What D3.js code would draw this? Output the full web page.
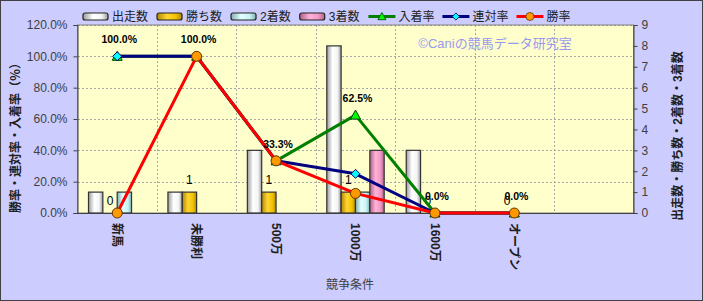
<!DOCTYPE html>
<html>
<head>
<meta charset="utf-8">
<script src="https://cdn.jsdelivr.net/npm/d3@7"></script>
<style>
  body { margin: 0; background: #fff; }
  svg { display: block; font-family: "Liberation Sans", "Noto Sans CJK JP", sans-serif; }
</style>
</head>
<body>
<div id="chart"></div>
<script>
var categories = ['新馬', '未勝利', '500万', '1000万', '1600万', 'オープン', ''];

var starts  = [1, 1, 3, 8, 3, 0, null];
var wins    = [0, 1, 1, 1, 0, 0, null];
var seconds = [1, 0, 0, 1, 0, 0, null];
var thirds  = [0, 0, 0, 3, 0, 0, null];

var placeRate = [100, 100, 33.3, 62.5, 0, 0, null];
var quinRate  = [100, 100, 33.3, 25, 0, 0, null];
var winRate   = [0, 100, 33.3, 12.5, 0, 0, null];

var pctTicks = [0, 20, 40, 60, 80, 100, 120];
var cntTicks = [0, 1, 2, 3, 4, 5, 6, 7, 8, 9];

var barSeries = [
  {name: '出走数', values: starts,  light: '#ffffff', mid: '#f4f4f4', dark: '#9a9a9a'},
  {name: '勝ち数', values: wins,    light: '#ffd633', mid: '#f2c200', dark: '#b08800'},
  {name: '2着数',  values: seconds, light: '#e6ffff', mid: '#c4f4f4', dark: '#80b0b0'},
  {name: '3着数',  values: thirds,  light: '#ffb3d9', mid: '#f098c4', dark: '#b06088'}
];
var lineSeries = [
  {name: '入着率', values: placeRate, color: '#008000', marker: 'triangle', fill: '#00ff00'},
  {name: '連対率', values: quinRate,  color: '#000080', marker: 'diamond',  fill: '#00ffff'},
  {name: '勝率',   values: winRate,   color: '#ff0000', marker: 'circle',   fill: '#ff9900'}
];

var W = 703, H = 301;
var plot = {left: 77.5, right: 633.5, top: 25, bottom: 213};

var svg = d3.select('#chart').append('svg')
            .attr('width', W)
            .attr('height', H);

var defs = svg.append('defs');
barSeries.forEach(function(s, i) {
  var g = defs.append('linearGradient').attr('id', 'grad' + i)
              .attr('x1', '0%').attr('x2', '100%').attr('y1', '0%').attr('y2', '0%');
  g.append('stop').attr('offset', '0%').attr('stop-color', s.dark);
  g.append('stop').attr('offset', '40%').attr('stop-color', s.light);
  g.append('stop').attr('offset', '75%').attr('stop-color', s.mid);
  g.append('stop').attr('offset', '100%').attr('stop-color', s.dark);
});

svg.append('rect')
   .attr('x', 0.5).attr('y', 0.5)
   .attr('width', W - 1).attr('height', H - 1)
   .attr('fill', '#ccccff')
   .attr('stroke', '#404040');

var x = d3.scaleBand().domain(d3.range(categories.length)).range([plot.left, plot.right]);
var xInner = d3.scaleBand().domain(d3.range(barSeries.length)).range([11, 68.4]);
var yPct = d3.scaleLinear().domain([0, 120]).range([plot.bottom, plot.top]);
var yCnt = d3.scaleLinear().domain([0, 9]).range([plot.bottom, plot.top]);

svg.append('rect')
   .attr('x', plot.left).attr('y', plot.top)
   .attr('width', plot.right - plot.left).attr('height', plot.bottom - plot.top)
   .attr('fill', '#ffffcc');

// grid
var grid = svg.append('g').attr('stroke', '#a8a8a8').attr('stroke-dasharray', '2,2').attr('shape-rendering', 'crispEdges');
grid.selectAll('line.h').data(pctTicks.slice(1)).enter().append('line')
    .attr('x1', plot.left).attr('x2', plot.right)
    .attr('y1', function(d) { return Math.round(yPct(d)) + 0.5; })
    .attr('y2', function(d) { return Math.round(yPct(d)) + 0.5; });
grid.selectAll('line.v').data(d3.range(1, categories.length)).enter().append('line')
    .attr('x1', function(d) { return Math.round(x(d)) + 0.5; })
    .attr('x2', function(d) { return Math.round(x(d)) + 0.5; })
    .attr('y1', plot.top).attr('y2', plot.bottom);

svg.append('rect')
   .attr('x', plot.left).attr('y', plot.top)
   .attr('width', plot.right - plot.left).attr('height', plot.bottom - plot.top)
   .attr('fill', 'none').attr('stroke', '#808080');

// bars
barSeries.forEach(function(s, si) {
  svg.append('g').selectAll('rect')
     .data(s.values.map(function(v, i) { return {v: v, i: i}; }).filter(function(d) { return d.v; }))
     .enter().append('rect')
       .attr('x', function(d) { return x(d.i) + xInner(si); })
       .attr('y', function(d) { return yCnt(d.v); })
       .attr('width', xInner.bandwidth())
       .attr('height', function(d) { return yCnt(0) - yCnt(d.v); })
       .attr('fill', 'url(#grad' + si + ')')
       .attr('stroke', '#333333')
       .attr('stroke-width', 1.2);
});

// win count labels
svg.append('g').selectAll('text')
   .data(wins.map(function(v, i) { return {v: v, i: i}; }).filter(function(d) { return d.v !== null; }))
   .enter().append('text')
     .attr('x', function(d) { return x(d.i) + xInner(1) + xInner.bandwidth() / 2; })
     .attr('y', function(d) { return yCnt(d.v) - 8; })
     .attr('text-anchor', 'middle')
     .attr('font-size', 12)
     .attr('fill', '#000')
     .text(function(d) { return d.v; });

// axes
var axisL = svg.append('g')
   .attr('transform', 'translate(' + plot.left + ',0)')
   .call(d3.axisLeft(yPct).tickValues(pctTicks).tickSize(4).tickFormat(function(d) { return d.toFixed(1) + '%'; }));
var axisR = svg.append('g')
   .attr('transform', 'translate(' + plot.right + ',0)')
   .call(d3.axisRight(yCnt).tickValues(cntTicks).tickSize(4));
var axisB = svg.append('g')
   .attr('transform', 'translate(0,' + plot.bottom + ')')
   .call(d3.axisBottom(x).tickSize(0).tickFormat(function(i) { return categories[i]; }));

[axisL, axisR, axisB].forEach(function(a) {
  a.select('.domain').attr('stroke', '#404040');
  a.selectAll('.tick line').attr('stroke', '#404040');
  a.selectAll('text').attr('font-size', 12).attr('fill', '#404040')
   .attr('font-family', '"Liberation Sans", "Noto Sans CJK JP", sans-serif');
});
axisL.selectAll('text').attr('x', -10);
axisR.selectAll('text').attr('x', 8);
axisB.selectAll('text')
     .attr('transform', 'rotate(90)')
     .attr('text-anchor', 'start')
     .attr('x', 10).attr('y', 0).attr('dy', '0.35em')
     .attr('font-weight', 'bold').attr('fill', '#202020');

// lines
function drawMarker(g, type, fill) {
  if (type === 'triangle') {
    g.append('path').attr('d', 'M0,-5L5,4L-5,4Z').attr('fill', fill).attr('stroke', '#004000').attr('stroke-width', 1);
  } else if (type === 'diamond') {
    g.append('path').attr('d', 'M0,-4.5L4.5,0L0,4.5L-4.5,0Z').attr('fill', fill).attr('stroke', '#000060').attr('stroke-width', 1);
  } else {
    g.append('circle').attr('r', 5).attr('fill', fill).attr('stroke', '#663300').attr('stroke-width', 1);
  }
}

var line = d3.line()
  .defined(function(d) { return d.v !== null; })
  .x(function(d) { return x(d.i) + x.bandwidth() / 2; })
  .y(function(d) { return yPct(d.v); });

lineSeries.forEach(function(s) {
  var pts = s.values.map(function(v, i) { return {v: v, i: i}; });
  svg.append('path').datum(pts)
     .attr('d', line)
     .attr('fill', 'none')
     .attr('stroke', s.color)
     .attr('stroke-width', 3)
     .attr('stroke-linejoin', 'round');
  pts.filter(function(d) { return d.v !== null; }).forEach(function(d) {
    var g = svg.append('g').attr('transform', 'translate(' + (x(d.i) + x.bandwidth() / 2) + ',' + yPct(d.v) + ')');
    drawMarker(g, s.marker, s.fill);
  });
});

// place rate labels
svg.append('g').selectAll('text')
   .data(placeRate.map(function(v, i) { return {v: v, i: i}; }).filter(function(d) { return d.v !== null; }))
   .enter().append('text')
     .attr('x', function(d) { return x(d.i) + x.bandwidth() / 2 + 2; })
     .attr('y', function(d) { return yPct(d.v) - 13; })
     .attr('text-anchor', 'middle')
     .attr('font-size', 10.5)
     .attr('font-weight', 'bold')
     .attr('fill', '#000')
     .text(function(d) { return d.v.toFixed(1) + '%'; });

// watermark
svg.append('text')
   .attr('x', 495).attr('y', 48)
   .attr('text-anchor', 'middle')
   .attr('font-size', 13)
   .attr('fill', '#9999ee')
   .text('©Caniの競馬データ研究室');

// axis titles
svg.append('text')
   .attr('transform', 'translate(20,135) rotate(-90)')
   .attr('text-anchor', 'middle')
   .attr('font-size', 12).attr('font-weight', 'bold').attr('fill', '#202020')
   .text('勝率・連対率・入着率（％）');
svg.append('text')
   .attr('transform', 'translate(682,136) rotate(-90)')
   .attr('text-anchor', 'middle')
   .attr('font-size', 12).attr('font-weight', 'bold').attr('fill', '#202020')
   .text('出走数・勝ち数・2着数・3着数');
svg.append('text')
   .attr('x', 350).attr('y', 289)
   .attr('text-anchor', 'middle')
   .attr('font-size', 12).attr('fill', '#404040')
   .text('競争条件');

// legend
var legend = svg.append('g').attr('font-size', 12);
var lx = 83;
barSeries.forEach(function(s, si) {
  legend.append('rect')
        .attr('x', lx).attr('y', 13).attr('width', 25).attr('height', 7)
        .attr('rx', 2)
        .attr('fill', 'url(#grad' + si + ')')
        .attr('stroke', '#222').attr('stroke-width', 1.2);
  var t = legend.append('text').attr('x', lx + 29).attr('y', 21).attr('fill', '#202020').text(s.name);
  lx += 29 + t.node().getComputedTextLength() + 9;
});
lineSeries.forEach(function(s) {
  legend.append('line')
        .attr('x1', lx).attr('x2', lx + 27).attr('y1', 16.5).attr('y2', 16.5)
        .attr('stroke', s.color).attr('stroke-width', 3);
  var g = legend.append('g').attr('transform', 'translate(' + (lx + 13.5) + ',16.5) scale(0.8)');
  drawMarker(g, s.marker, s.fill);
  var t = legend.append('text').attr('x', lx + 30).attr('y', 21).attr('fill', '#202020').text(s.name);
  lx += 30 + t.node().getComputedTextLength() + 8;
});
</script>
</body>
</html>
